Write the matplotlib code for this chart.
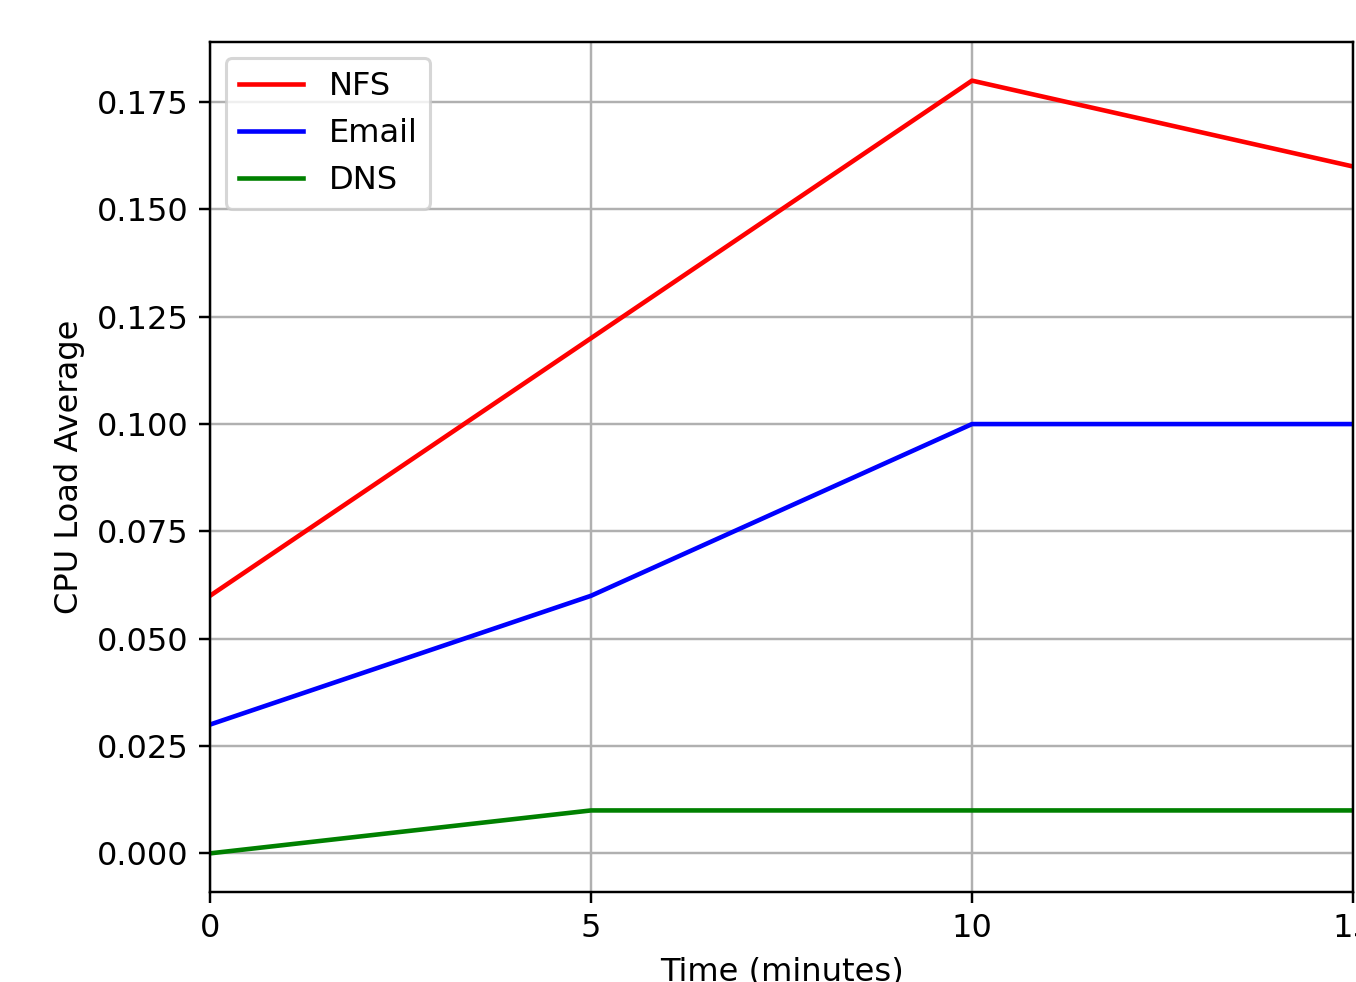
import matplotlib
matplotlib.use("Agg")
import matplotlib.pyplot as plt

time_min = [0, 5, 10, 15]
nfs = [0.06, 0.12, 0.18, 0.16]
email = [0.03, 0.06, 0.10, 0.10]
dns = [0.0, 0.01, 0.01, 0.01]
x_ticks = [0, 5, 10, 15]

plt.rcParams["font.size"] = 10.5

DPI = 220
fig = plt.figure(figsize=(1356 / DPI, 982 / DPI), dpi=DPI)
ax = fig.add_axes([210 / 1356, 1 - 892 / 982, (1353 - 210) / 1356, (892 - 42) / 982])

ax.plot(time_min, nfs, color="red", label="NFS", lw=1.5)
ax.plot(time_min, email, color="blue", label="Email", lw=1.5)
ax.plot(time_min, dns, color="green", label="DNS", lw=1.5)

ax.set_xlim(0, 15)
ax.set_xticks(x_ticks)
ax.set_xlabel("Time (minutes)")
ax.set_ylabel("CPU Load Average")
ax.grid(True)
ax.legend(loc="upper left")

fig.savefig("out.png", dpi=DPI)
